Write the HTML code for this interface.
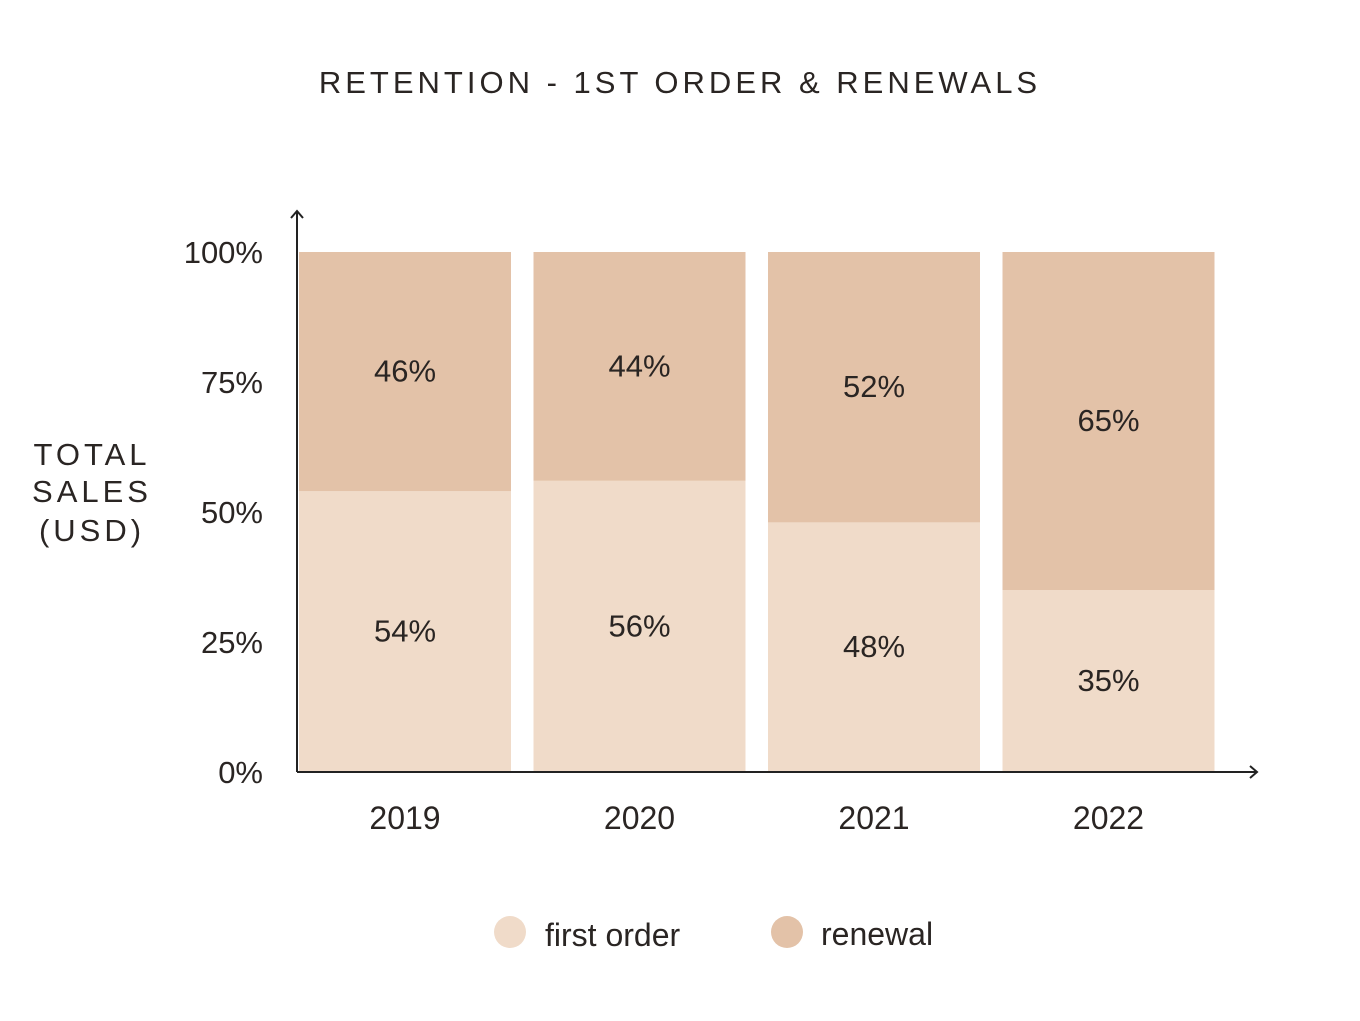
<!DOCTYPE html>
<html><head><meta charset="utf-8"><style>
body{margin:0;background:#fff;}
svg{display:block;font-family:"Liberation Sans",sans-serif;}
</style></head><body>
<svg width="1360" height="1021" viewBox="0 0 1360 1021">
<text x="680" y="93" text-anchor="middle" font-size="31" letter-spacing="4" fill="#2a2523">RETENTION - 1ST ORDER &amp; RENEWALS</text>
<g id="yTitle" font-size="31" letter-spacing="4" fill="#2a2523" text-anchor="middle">
<text x="92" y="465">TOTAL</text><text x="92" y="502">SALES</text><text x="92" y="541">(USD)</text>
</g>
<g id="bars"></g>
<g id="ticks"></g>
<g id="axes" stroke="#222" stroke-width="2" fill="none">
<line x1="297" y1="772" x2="297" y2="212"/>
<polyline points="291,218 297,211 303,218"/>
<line x1="297" y1="772" x2="1257" y2="772"/>
<polyline points="1250,766 1257,772 1250,778"/>
</g>
<g font-size="32" fill="#2a2523">
<circle cx="510" cy="932" r="16" fill="#f0dbc9"/>
<text x="545" y="946">first order</text>
<circle cx="787" cy="932" r="16" fill="#e3c2a8"/>
<text x="821" y="945">renewal</text>
</g>
</svg>
<script>
const categories=["2019","2020","2021","2022"];
const firstOrder=[54,56,48,35];
const renewal=[46,44,52,65];
const tickValues=[0,25,50,75,100];
const NS="http://www.w3.org/2000/svg";
const y0=772,y1=252,xL=299,band=234.5,bw=212;
function yS(v){return y0-(v/100)*(y0-y1);}
function xS(i){return xL+i*band;}
function mk(tag,attrs,parent){const e=document.createElementNS(NS,tag);for(const k in attrs)e.setAttribute(k,attrs[k]);parent.appendChild(e);return e;}
const bars=document.getElementById('bars'),ticks=document.getElementById('ticks');
categories.forEach((c,i)=>{
  const x=xS(i),f=firstOrder[i],r=renewal[i],tot=f+r;
  const fy=yS(f/tot*100);
  const a=mk('rect',{x:x,y:fy,width:bw,height:y0-fy,fill:'#f0dbc9'},bars);
  
  
  const b=mk('rect',{x:x,y:y1,width:bw,height:fy-y1,fill:'#e3c2a8'},bars);
  
  
  const t1=mk('text',{x:x+bw/2,y:(fy+y0)/2+10,'text-anchor':'middle','font-size':31,fill:'#2a2523'},bars);
  t1.textContent=f+'%';
  
  
  const t2=mk('text',{x:x+bw/2,y:(fy+y1)/2+10,'text-anchor':'middle','font-size':31,fill:'#2a2523'},bars);
  t2.textContent=r+'%';
  
  
  const xl=mk('text',{x:x+bw/2,y:829,'text-anchor':'middle','font-size':32,fill:'#2a2523'},ticks);
  xl.textContent=c;
  
  
});
tickValues.forEach(v=>{
  const t=mk('text',{x:263,y:yS(v)+11,'text-anchor':'end','font-size':31,fill:'#2a2523'},ticks);
  t.textContent=v+'%';
  
  
});
</script>
</body></html>
